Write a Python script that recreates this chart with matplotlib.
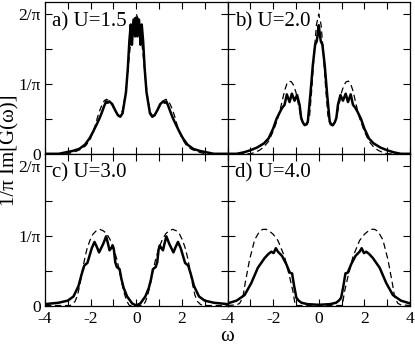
import matplotlib.pyplot as plt
import numpy as np

plt.rcParams['font.family'] = ['Liberation Serif', 'DejaVu Serif']
plt.rcParams['axes.unicode_minus'] = False

# Spectra for omega >= 0 (curves are symmetric),
# heights in units of 1/pi
labels = ["a) U=1.5", "b) U=2.0", "c) U=3.0", "d) U=4.0"]

# a) U=1.5
w_a = [0.0, 0.05, 0.12, 0.19, 0.24, 0.30, 0.37, 0.45, 0.52, 0.60, 0.70, 0.80, 0.92, 1.05, 1.18, 1.25,
       1.32, 1.42, 1.52, 1.62, 1.75, 1.90, 2.05, 2.25, 2.5, 2.8, 3.1, 3.4, 4.0]
v_a = [1.95, 1.68, 1.92, 1.56, 1.85, 1.62, 1.22, 0.88, 0.74, 0.58, 0.53, 0.55, 0.62, 0.71, 0.75, 0.73,
       0.75, 0.67, 0.58, 0.50, 0.41, 0.31, 0.22, 0.13, 0.07, 0.04, 0.02, 0.0, 0.0]
wd_a = [0.0, 0.1, 0.2, 0.3, 0.4, 0.5, 0.6, 0.7, 0.8, 0.9, 1.0, 1.1, 1.2, 1.3, 1.4, 1.5, 1.6, 1.7, 1.8,
        2.0, 2.2, 2.4, 2.6, 2.8, 3.0, 4.0]
vd_a = [2.0, 1.92, 1.72, 1.42, 1.08, 0.80, 0.62, 0.55, 0.55, 0.60, 0.66, 0.72, 0.76, 0.78, 0.76, 0.70,
        0.62, 0.52, 0.40, 0.22, 0.12, 0.07, 0.04, 0.02, 0.0, 0.0]

# b) U=2.0
w_b = [0.0, 0.05, 0.09, 0.16, 0.26, 0.37, 0.48, 0.55, 0.62, 0.70, 0.77, 0.84, 0.95, 1.06, 1.18, 1.28,
       1.40, 1.50, 1.60, 1.70, 1.85, 2.0, 2.2, 2.4, 2.7, 3.0, 3.3, 3.6, 4.0]
v_b = [1.84, 1.70, 1.61, 1.56, 1.27, 0.84, 0.46, 0.42, 0.41, 0.45, 0.51, 0.70, 0.84, 0.76, 0.86, 0.74,
       0.85, 0.70, 0.66, 0.60, 0.50, 0.36, 0.22, 0.15, 0.09, 0.05, 0.02, 0.0, 0.0]
wd_b = [0.0, 0.1, 0.2, 0.3, 0.4, 0.5, 0.6, 0.7, 0.8, 0.9, 1.0, 1.1, 1.2, 1.3, 1.4, 1.5, 1.6, 1.7, 1.8,
        2.0, 2.2, 2.4, 2.6, 2.8, 3.0, 4.0]
vd_b = [2.0, 1.85, 1.45, 0.95, 0.55, 0.42, 0.40, 0.45, 0.56, 0.72, 0.88, 0.98, 1.03, 1.04, 1.0, 0.90,
        0.76, 0.62, 0.50, 0.32, 0.18, 0.10, 0.05, 0.02, 0.0, 0.0]

# c) U=3.0
w_c = [0.0, 0.18, 0.4, 0.55, 0.65, 0.73, 0.85, 0.92, 0.98, 1.03, 1.10, 1.17, 1.25, 1.32, 1.45, 1.63,
       1.73, 1.83, 1.95, 2.14, 2.28, 2.4, 2.53, 2.75, 3.0, 3.4, 4.0]
v_c = [0.0, 0.03, 0.13, 0.25, 0.38, 0.52, 0.55, 0.62, 0.80, 0.86, 0.82, 0.79, 0.90, 0.99, 0.88, 0.76,
       0.84, 0.91, 0.82, 0.61, 0.57, 0.44, 0.28, 0.13, 0.07, 0.04, 0.02]
wd_c = [0.0, 0.3, 0.41, 0.52, 0.63, 0.75, 0.85, 1.0, 1.14, 1.3, 1.45, 1.6, 1.75, 1.9, 2.02, 2.15, 2.24,
        2.35, 2.46, 2.57, 2.68, 2.8, 2.9, 4.0]
vd_c = [0.0, 0.0, 0.06, 0.17, 0.32, 0.52, 0.66, 0.83, 0.94, 1.03, 1.07, 1.09, 1.07, 1.02, 0.94, 0.82,
        0.70, 0.52, 0.32, 0.15, 0.06, 0.02, 0.0, 0.0]

# d) U=4.0
w_d = [0.0, 0.5, 0.76, 0.88, 0.98, 1.08, 1.17, 1.27, 1.42, 1.61, 1.79, 1.88, 1.98, 2.08, 2.2, 2.37,
       2.67, 2.96, 3.25, 3.6, 4.0]
v_d = [0.01, 0.02, 0.04, 0.07, 0.11, 0.28, 0.46, 0.47, 0.59, 0.71, 0.77, 0.82, 0.75, 0.77, 0.74, 0.68,
       0.54, 0.32, 0.15, 0.07, 0.03]
wd_d = [0.0, 1.03, 1.13, 1.27, 1.5, 1.79, 2.0, 2.15, 2.3, 2.45, 2.6, 2.81, 3.03, 3.22, 3.33, 3.47, 3.6,
        4.0]
vd_d = [0.0, 0.0, 0.2, 0.4, 0.70, 0.93, 1.02, 1.06, 1.09, 1.09, 1.06, 0.94, 0.66, 0.33, 0.11, 0.03,
        0.01, 0.0]

solid = [(w_a, v_a), (w_b, v_b), (w_c, v_c), (w_d, v_d)]
dashed = [(wd_a, vd_a), (wd_b, vd_b), (wd_c, vd_c), (wd_d, vd_d)]


def mirror(w, v):
    w = np.array(w)
    v = np.array(v)
    return np.concatenate((-w[::-1], w[1:])), np.concatenate((v[::-1], v[1:])) / np.pi


# Create figure
fig, axs = plt.subplots(2, 2, figsize=(4.15, 3.46), dpi=100)
fig.subplots_adjust(left=0.1084, right=0.988, top=0.994, bottom=0.117, hspace=0, wspace=0)

for i, ax in enumerate(axs.flat):
    x, y = mirror(*solid[i])
    ax.plot(x, y, color="k", lw=1.8)
    x, y = mirror(*dashed[i])
    ax.plot(x, y, color="k", lw=0.9, dashes=(5, 3))

    ax.set_xlim(-4, 4)
    ax.set_ylim(0, 0.691)
    ax.set_xticks(range(-4, 5))
    ax.set_yticks(np.arange(5) * 0.5 / np.pi)
    ax.tick_params(direction="in", top=True, right=True, length=5, width=0.8,
                   labelsize=12.5, pad=3)
    ax.tick_params(axis="x", pad=4)
    for s in ax.spines.values():
        s.set_linewidth(0.9)

    # tick labels only on outer edges
    if i >= 2:
        xl = ["-4", "", "-2", "", "0", "", "2", "", "4"]
        if i == 2:
            xl[-1] = ""
        ax.set_xticklabels(xl)
    else:
        ax.set_xticklabels([])
    if i % 2 == 0:
        ax.set_yticklabels(["0", "", "1/π", "", "2/π"])
    else:
        ax.set_yticklabels([])

    ax.text(0.04, 0.935, labels[i], transform=ax.transAxes, fontsize=15, va="top")

# Format graph
fig.text(0.024, 0.566, "1/π Im[G(ω)]", rotation=90, ha="center", va="center", fontsize=15)
fig.text(0.547, 0.027, "ω", ha="center", va="center", fontsize=15)

plt.savefig("out.png", dpi=100)
